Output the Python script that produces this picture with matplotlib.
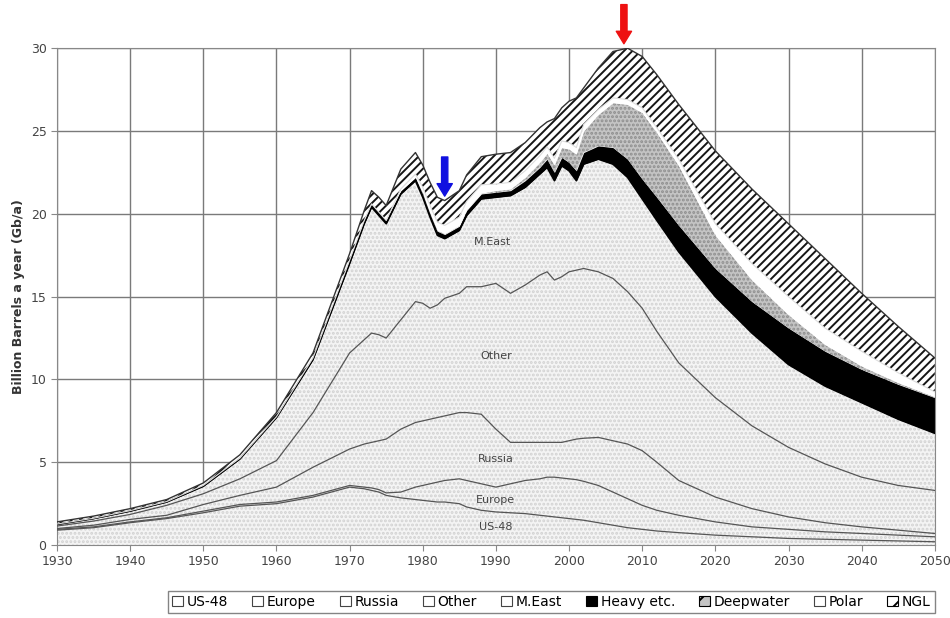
import numpy as np
import matplotlib
matplotlib.use('Agg')
import matplotlib.pyplot as plt
import matplotlib.patches as mpatches

years = [1930, 1935, 1940, 1945, 1950, 1955, 1960, 1965, 1970, 1972, 1973, 1974, 1975, 1977, 1979,
         1980, 1981, 1982, 1983, 1985, 1986, 1988, 1990, 1992, 1994, 1996, 1997, 1998, 1999, 2000,
         2001, 2002, 2004, 2006, 2008, 2010, 2012, 2015, 2020, 2025, 2030, 2035, 2040, 2045, 2050]

us48 = [0.9, 1.05, 1.35, 1.6, 1.95, 2.35, 2.5, 2.9, 3.5, 3.4, 3.3, 3.2, 3.0, 2.85, 2.75,
        2.7, 2.65, 2.6, 2.6, 2.5, 2.3, 2.1, 2.0, 1.95, 1.9, 1.8, 1.75, 1.7, 1.65, 1.6,
        1.55, 1.5, 1.35, 1.2, 1.05, 0.95, 0.85, 0.75, 0.6, 0.5, 0.4, 0.35, 0.3, 0.25, 0.2]
europe = [0.05, 0.05, 0.05, 0.05, 0.1, 0.1, 0.1, 0.1, 0.1, 0.1, 0.15, 0.15, 0.15, 0.35, 0.75,
          0.9, 1.05, 1.2, 1.3, 1.5, 1.6, 1.6, 1.5, 1.75, 2.0, 2.2, 2.35, 2.4, 2.4, 2.4,
          2.4, 2.35, 2.25, 2.0, 1.75, 1.45, 1.25, 1.05, 0.8, 0.6, 0.55, 0.45, 0.4, 0.35, 0.3]
russia = [0.05, 0.1, 0.15, 0.15, 0.4, 0.55, 0.9, 1.7, 2.2, 2.6, 2.75, 2.95, 3.25, 3.8, 3.9,
          3.9, 3.9, 3.9, 3.9, 4.0, 4.1, 4.2, 3.5, 2.5, 2.3, 2.2, 2.1, 2.1, 2.15, 2.3,
          2.45, 2.6, 2.9, 3.1, 3.3, 3.3, 2.9, 2.1, 1.5, 1.1, 0.75, 0.55, 0.4, 0.3, 0.2]
other = [0.15, 0.25, 0.3, 0.6, 0.65, 1.0, 1.6, 3.3, 5.8, 6.3, 6.6, 6.4, 6.1, 6.6, 7.3,
         7.1, 6.7, 6.8, 7.1, 7.2, 7.6, 7.7, 8.8, 9.0, 9.5, 10.1, 10.3, 9.8, 10.0, 10.2,
         10.2, 10.25, 10.0, 9.8, 9.2, 8.6, 7.9, 7.1, 6.0, 5.0, 4.2, 3.55, 3.0, 2.7, 2.6]
meast = [0.1, 0.15, 0.2, 0.2, 0.45, 1.2, 2.6, 3.2, 5.4, 7.0, 7.6, 7.2, 6.9, 7.6, 7.3,
         6.4, 5.5, 4.2, 3.6, 3.8, 4.3, 5.3, 5.2, 5.9, 5.9, 6.1, 6.3, 6.0, 6.7, 6.1,
         5.4, 6.3, 6.8, 6.9, 6.9, 6.6, 6.7, 6.7, 6.1, 5.6, 5.0, 4.7, 4.5, 4.0, 3.45]
heavy = [0.02, 0.02, 0.03, 0.03, 0.05, 0.05, 0.05, 0.1, 0.2, 0.2, 0.2, 0.2, 0.2, 0.2, 0.2,
         0.2, 0.2, 0.25, 0.25, 0.25, 0.3, 0.3, 0.3, 0.3, 0.4, 0.4, 0.5, 0.5, 0.5, 0.5,
         0.6, 0.7, 0.8, 1.0, 1.1, 1.2, 1.4, 1.6, 1.7, 1.9, 2.2, 2.1, 2.0, 2.1, 2.15]
deepwater = [0, 0, 0, 0, 0, 0, 0, 0, 0, 0, 0, 0, 0, 0, 0,
             0.05, 0.05, 0.05, 0.05, 0.05, 0.05, 0.05, 0.1, 0.1, 0.2, 0.3, 0.35, 0.45, 0.6, 0.8,
             1.0, 1.3, 1.9, 2.7, 3.3, 4.0, 3.9, 3.6, 2.0, 1.3, 0.8, 0.4, 0.2, 0.1, 0.05]
polar = [0, 0, 0, 0, 0, 0, 0, 0, 0, 0, 0, 0, 0, 0.1, 0.2,
         0.35, 0.45, 0.5, 0.5, 0.5, 0.5, 0.5, 0.4, 0.4, 0.4, 0.4, 0.4, 0.4, 0.4, 0.4,
         0.4, 0.4, 0.3, 0.3, 0.3, 0.3, 0.3, 0.4, 0.7, 1.0, 1.1, 1.0, 0.9, 0.6, 0.3]
ngl = [0.13, 0.13, 0.12, 0.12, 0.15, 0.2, 0.25, 0.3, 0.4, 0.6, 0.8, 0.9, 0.9, 1.2, 1.3,
       1.35, 1.4, 1.5, 1.5, 1.6, 1.6, 1.7, 1.8, 1.8, 1.7, 1.7, 1.5, 2.4, 2.0, 2.5,
       3.0, 2.2, 2.5, 2.8, 3.1, 3.1, 3.2, 3.3, 4.4, 4.5, 4.4, 4.2, 3.5, 2.8, 2.05]

names = ['US-48', 'Europe', 'Russia', 'Other', 'M.East', 'Heavy etc.', 'Deepwater', 'Polar', 'NGL']
series = [us48, europe, russia, other, meast, heavy, deepwater, polar, ngl]

# fill, hatch colour, hatch
styles = [('#f4f4f4', '#d2d2d2', '....'),
          ('#f4f4f4', '#d2d2d2', '....'),
          ('#f4f4f4', '#d2d2d2', '....'),
          ('#f4f4f4', '#d2d2d2', '....'),
          ('#f4f4f4', '#d2d2d2', '....'),
          ('black', 'black', None),
          ('#c4c4c4', '#8e8e8e', '....'),
          ('white', 'white', None),
          ('white', '#151515', '////')]

plt.rcParams['hatch.linewidth'] = 1.4
fig = plt.figure(figsize=(9.5, 6.18), dpi=100)
ax = fig.add_axes([0.06, 0.118, 0.924, 0.804])

x = np.array(years)
tops = np.cumsum(np.array(series), axis=0)
bottom = np.zeros(len(x))
for i, top in enumerate(tops):
    fc, hc, h = styles[i]
    ax.fill_between(x, bottom, top, facecolor=fc, edgecolor=hc, hatch=h, linewidth=0, zorder=2)
    bottom = top

# boundary lines
for i in range(4):
    ax.plot(x, tops[i], color='#555555', lw=0.9, zorder=3)
ax.plot(x, tops[4], color='black', lw=1.2, zorder=3)
ax.plot(x, tops[7], color='#dddddd', lw=0.8, zorder=3)
ax.plot(x, tops[8], color='#333333', lw=1.0, zorder=3)

ax.set_xlim(1930, 2050)
ax.set_ylim(0, 30)
ax.set_xticks(range(1930, 2051, 10))
ax.set_yticks(range(0, 31, 5))
ax.grid(True, color='#7a7a7a', lw=1.0, zorder=0)
ax.set_axisbelow(True)
for s in ax.spines.values():
    s.set_color('#888888')
ax.tick_params(colors='#444444', labelsize=9, length=4, color='#888888')
ax.set_ylabel('Billion Barrels a year (Gb/a)', fontsize=9, fontweight='bold', color='#333333')

for lab, xx, yy in [('M.East', 1989.5, 18.3), ('Other', 1990, 11.4), ('Russia', 1990, 5.2),
                    ('Europe', 1990, 2.7), ('US-48', 1990, 1.1)]:
    ax.text(xx, yy, lab, fontsize=8, color='#444444', ha='center', va='center', zorder=5)

# arrows
ax.annotate('', xy=(1983, 20.9), xytext=(1983, 23.6),
            arrowprops=dict(arrowstyle='simple,head_width=1.1,head_length=0.9,tail_width=0.45',
                            color='#1010e0'), zorder=6)
ax.annotate('', xy=(2007.5, 30.1), xytext=(2007.5, 32.8), annotation_clip=False,
            arrowprops=dict(arrowstyle='simple,head_width=1.1,head_length=0.9,tail_width=0.45',
                            color='#ee1111'), zorder=6)

handles = []
for i, n in enumerate(names):
    fc, hc, h = styles[i]
    if i < 5 or i == 7:
        handles.append(mpatches.Patch(facecolor='white', edgecolor='#444444', lw=0.8, label=n))
    else:
        handles.append(mpatches.Patch(facecolor=fc, edgecolor='black', hatch=h and '//',
                                      lw=0.8, label=n))
leg = fig.legend(handles=handles, loc='lower left', bbox_to_anchor=(0.177, 0.008, 0.807, 0.04),
                 mode='expand', ncol=9, fontsize=10, frameon=True, fancybox=False,
                 edgecolor='#666666', handlelength=0.8, handleheight=0.8, handletextpad=0.25,
                 columnspacing=0.4, borderpad=0.3, borderaxespad=0.0)
leg.get_frame().set_linewidth(1.0)

fig.savefig('out.png', dpi=100)
